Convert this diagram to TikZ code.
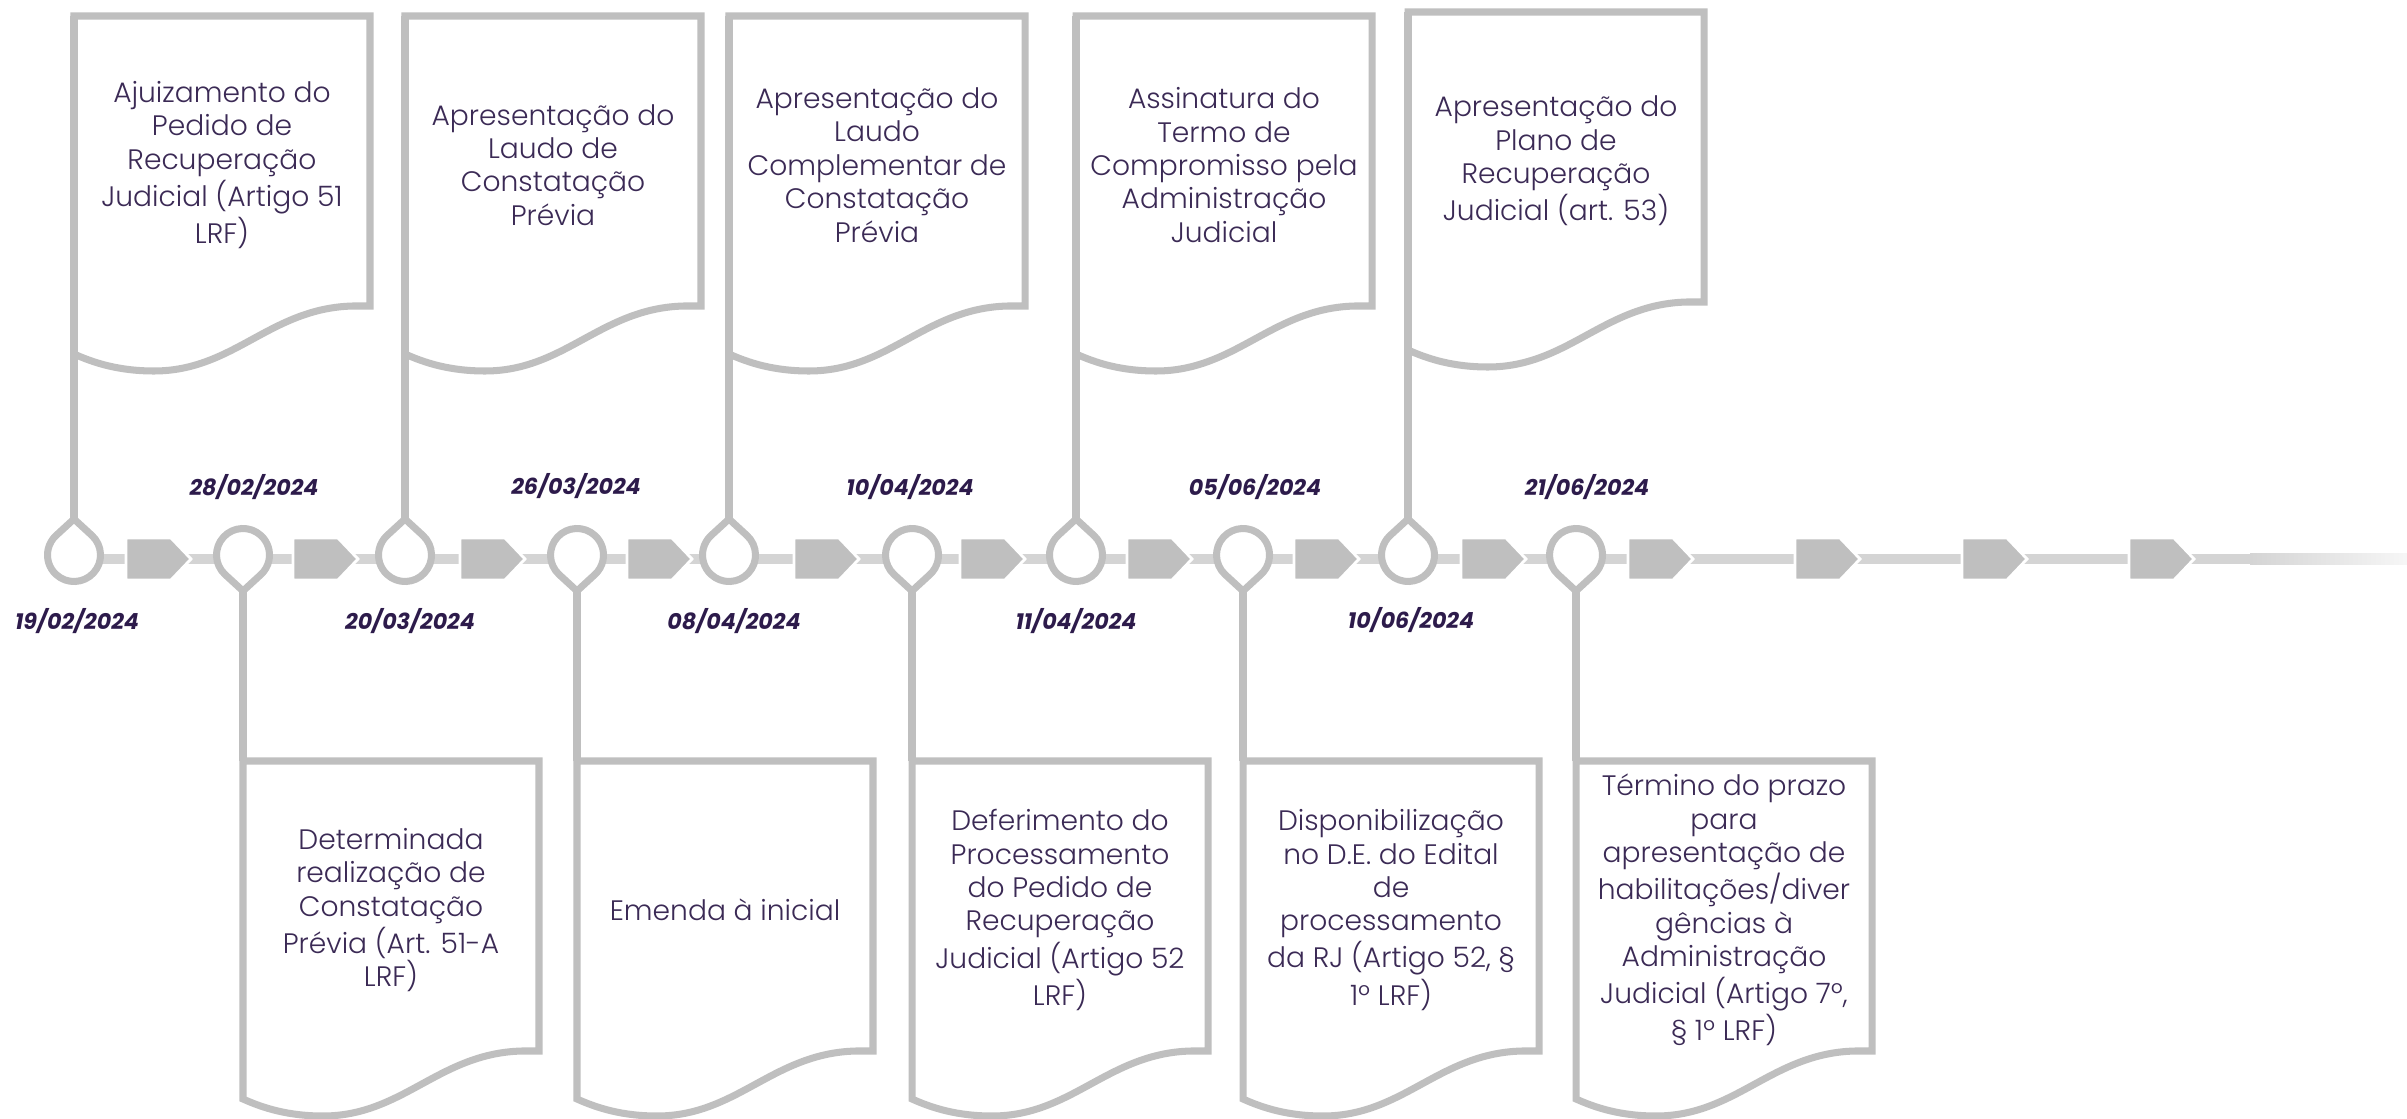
\documentclass[tikz,border=0pt]{standalone}
\usepackage{fontspec}
\usepackage{xcolor}
\setmainfont{Poppins Light}
\newfontfamily\datefont{Poppins Bold Italic}
\definecolor{linegray}{HTML}{BFBFBF}
\definecolor{bargray}{HTML}{D4D4D4}
\definecolor{textpurple}{HTML}{3B2A55}
\definecolor{datepurple}{HTML}{2D1B4B}

\tikzset{
  docline/.style={draw=linegray, line width=2pt, fill=white},
  stem/.style={draw=linegray, line width=2.1pt},
  pinline/.style={draw=linegray, line width=2pt, fill=white},
  chevron/.style={fill=linegray, draw=white, line width=0.8pt},
  doctext/.style={align=center, inner sep=0pt, text=textpurple, font=\fontsize{8}{9.5}\selectfont},
  datelbl/.style={inner sep=0pt, text=datepurple, font=\datefont\fontsize{6.3}{7}\selectfont}
}

% document box with wavy bottom: name, left, top, text
\newcommand{\docbox}[4]{%
  \begin{scope}[shift={(#2,#3)}]
    \draw[docline] (0,338) -- (0,0) coordinate (#1nw) -- (296,0) -- (296,290) -- (279,290)
      .. controls (196,292) and (160,355) .. (80,355)
      .. controls (45,355) and (20,347) .. (0,338) -- cycle;
    \node[doctext] (#1) at (148,149) {#4};
  \end{scope}}
% pin hanging from a box above / standing on a box below: name, x
\newcommand{\toppin}[2]{%
  \draw[pinline] (#2,555) ++(312.6:26.5) arc[start angle=312.6, end angle=587.4, radius=26.5]
    -- (#2,519) coordinate (#1) -- cycle;}
\newcommand{\botpin}[2]{%
  \draw[pinline] (#2,555) ++(132.6:26.5) arc[start angle=132.6, end angle=407.4, radius=26.5]
    -- (#2,591) coordinate (#1) -- cycle;}
\newcommand{\chev}[1]{%
  \filldraw[chevron] (#1,538) -- ++(45,0) -- ++(20,21) -- ++(-20,21) -- ++(-45,0) -- cycle;}

\begin{document}
\begin{tikzpicture}[x=0.01cm, y=-0.01cm]
\useasboundingbox (0,0) rectangle (2407,1119);

% timeline
\fill[bargray] (74,554) rectangle (2250,564);
\shade[left color=bargray, right color=bargray!20] (2250,554) rectangle (2407,564);
\chev{126} \chev{293} \chev{460} \chev{627} \chev{794} \chev{960} \chev{1127}
\chev{1294} \chev{1461} \chev{1628} \chev{1795} \chev{1962} \chev{2129}

% pins
\toppin{p1}{74}   \botpin{p2}{243}
\toppin{p3}{405}  \botpin{p4}{577}
\toppin{p5}{729}  \botpin{p6}{912}
\toppin{p7}{1076} \botpin{p8}{1243}
\toppin{p9}{1408} \botpin{p10}{1576}

% boxes
\docbox{b1}{74}{16}{Ajuizamento do\\Pedido de\\Recuperação\\Judicial (Artigo 51\\LRF)}
\docbox{b2}{243}{761}{Determinada\\realização de\\Constatação\\Prévia (Art. 51-A\\LRF)}
\docbox{b3}{405}{16}{Apresentação do\\Laudo de\\Constatação\\Prévia}
\docbox{b4}{577}{761}{Emenda à inicial}
\docbox{b5}{729}{16}{Apresentação do\\Laudo\\Complementar de\\Constatação\\Prévia}
\docbox{b6}{912}{761}{Deferimento do\\Processamento\\do Pedido de\\Recuperação\\Judicial (Artigo 52\\LRF)}
\docbox{b7}{1076}{16}{Assinatura do\\Termo de\\Compromisso pela\\Administração\\Judicial}
\docbox{b8}{1243}{761}{Disponibilização\\no D.E. do Edital\\de\\processamento\\da RJ (Artigo 52, §\\1º LRF)}
\docbox{b9}{1408}{12}{Apresentação do\\Plano de\\Recuperação\\Judicial (art. 53)}
\docbox{b10}{1576}{761}{Término do prazo\\para\\apresentação de\\habilitações/diver\\gências à\\Administração\\Judicial (Artigo 7º,\\§ 1º LRF)}

% stems
\draw[stem] (p1) -- (b1nw);  \draw[stem] (p2) -- (b2nw);
\draw[stem] (p3) -- (b3nw);  \draw[stem] (p4) -- (b4nw);
\draw[stem] (p5) -- (b5nw);  \draw[stem] (p6) -- (b6nw);
\draw[stem] (p7) -- (b7nw);  \draw[stem] (p8) -- (b8nw);
\draw[stem] (p9) -- (b9nw);  \draw[stem] (p10) -- (b10nw);

% dates
\node[datelbl] (d1) at (77,621) {19/02/2024};
\node[datelbl] (d2) at (254,487) {28/02/2024};
\node[datelbl] (d3) at (410,621) {20/03/2024};
\node[datelbl] (d4) at (576,486) {26/03/2024};
\node[datelbl] (d5) at (734,621) {08/04/2024};
\node[datelbl] (d6) at (910,487) {10/04/2024};
\node[datelbl] (d7) at (1076,621) {11/04/2024};
\node[datelbl] (d8) at (1255,487) {05/06/2024};
\node[datelbl] (d9) at (1411,620) {10/06/2024};
\node[datelbl] (d10) at (1587,487) {21/06/2024};
\end{tikzpicture}
\end{document}
